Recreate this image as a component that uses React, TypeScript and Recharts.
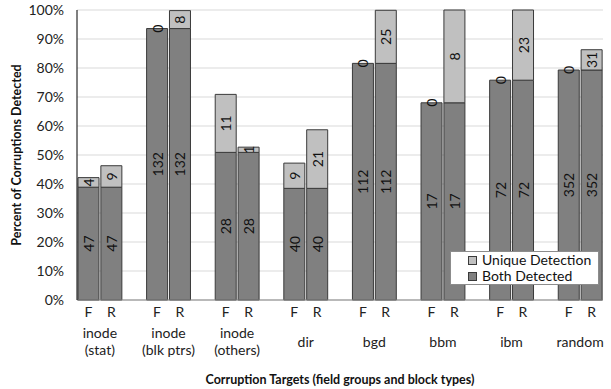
import { BarChart, Bar, XAxis, YAxis, CartesianGrid, LabelList } from 'recharts'

// group names along the x axis (one or two lines each)
const groups = [
  ['inode', '(stat)'],
  ['inode', '(blk ptrs)'],
  ['inode', '(others)'],
  ['dir'],
  ['bgd'],
  ['bbm'],
  ['ibm'],
  ['random'],
]

// percent of corruptions
const fBoth = [38.9, 93.6, 50.9, 38.5, 81.6, 68.0, 75.8, 79.3]
const fUnique = [3.3, 0, 20.0, 8.7, 0, 0, 0, 0]
const rBoth = [38.9, 93.6, 50.9, 38.5, 81.6, 68.0, 75.8, 79.3]
const rUnique = [7.4, 6.2, 1.8, 20.2, 18.3, 32.0, 24.2, 7.0]

// counts printed on the bars
const bothCount = [47, 132, 28, 40, 112, 17, 72, 352]
const fUniqueCount = [4, 0, 11, 9, 0, 0, 0, 0]
const rUniqueCount = [9, 8, 1, 21, 25, 8, 23, 31]

const yTicks = [0, 10, 20, 30, 40, 50, 60, 70, 80, 90, 100]

const W = 611
const H = 389
const Y_W = 77
const M_RIGHT = 8
const FONT = 'Lato, "Liberation Sans", sans-serif'
const DARK = '#808080'
const LIGHT = '#c0c0c0'
const EDGE = '#3a3a3a'

type Row = {
  key: string
  cat: string
  group: number
  both: number | null
  unique: number | null
  bothN: number | null
  uniqueN: number | null
}

const rows: Row[] = []
groups.forEach((_, i) => {
  rows.push({ key: `F${i}`, cat: 'F', group: i, both: fBoth[i], unique: fUnique[i], bothN: bothCount[i], uniqueN: fUniqueCount[i] })
  rows.push({ key: `R${i}`, cat: 'R', group: i, both: rBoth[i], unique: rUnique[i], bothN: bothCount[i], uniqueN: rUniqueCount[i] })
  if (i < groups.length - 1) {
    rows.push({ key: `_${i}`, cat: '', group: i, both: null, unique: null, bothN: null, uniqueN: null })
  }
})

const SLOT = (W - Y_W - M_RIGHT) / rows.length

// eslint-disable-next-line @typescript-eslint/no-explicit-any
function CatTick(props: any) {
  const { x, y, payload } = props
  const row = rows.find((r) => r.key === payload.value)
  if (!row || !row.cat) return <g />
  const lines = groups[row.group]
  const gx = x + SLOT / 2
  return (
    <g fontFamily={FONT} fontSize={14} fill="#222">
      <text x={x} y={y + 17} textAnchor="middle">{row.cat}</text>
      {row.cat === 'F' &&
        (lines.length === 2 ? (
          <>
            <text x={gx} y={y + 38} textAnchor="middle">{lines[0]}</text>
            <text x={gx} y={y + 55} textAnchor="middle">{lines[1]}</text>
          </>
        ) : (
          <text x={gx} y={y + 47} textAnchor="middle">{lines[0]}</text>
        ))}
    </g>
  )
}

function vText(cx: number, cy: number, value: number) {
  return (
    <text
      x={cx}
      y={cy}
      transform={`rotate(-90 ${cx} ${cy})`}
      textAnchor="middle"
      dominantBaseline="central"
      fontFamily={FONT}
      fontSize={14}
      fill="#111"
    >
      {value}
    </text>
  )
}

// eslint-disable-next-line @typescript-eslint/no-explicit-any
function BarLabel(props: any) {
  const { value } = props
  if (value === null || value === undefined || value === 0) return null
  const x = Number(props.x)
  const y = Number(props.y)
  const w = Number(props.width)
  const h = Number(props.height)
  return vText(x + w / 2, y + h / 2, value)
}

// zero-height unique segments: the "0" sits on top of the dark bar
// eslint-disable-next-line @typescript-eslint/no-explicit-any
function ZeroLabel(props: any) {
  const { value } = props
  if (value !== 0) return null
  const x = Number(props.x)
  const y = Number(props.y)
  const w = Number(props.width)
  return vText(x + w / 2, y, value)
}

const legendItems = [
  { name: 'Unique Detection', color: LIGHT },
  { name: 'Both Detected', color: DARK },
]

export default function App() {
  return (
    <div style={{ position: 'absolute', left: 0, top: 0, width: W, height: H, background: '#fff' }}>
      <BarChart
        width={W}
        height={H}
        data={rows}
        margin={{ top: 10, right: M_RIGHT, left: 0, bottom: 0 }}
        barCategoryGap={1}
      >
        <CartesianGrid vertical={false} stroke="#d9d9d9" />
        <XAxis
          dataKey="key"
          interval={0}
          height={89}
          tickLine={false}
          tickSize={0}
          tickMargin={0}
          axisLine={{ stroke: '#868686' }}
          tick={<CatTick />}
          label={{
            content: () => (
              <text x={340} y={384} textAnchor="middle" fontFamily={FONT} fontSize={12.5} fontWeight="bold" fill="#111">
                Corruption Targets (field groups and block types)
              </text>
            ),
          }}
        />
        <YAxis
          width={Y_W}
          domain={[0, 100]}
          ticks={yTicks}
          tickFormatter={(v) => `${v}%`}
          tickLine={false}
          tickSize={0}
          tickMargin={13}
          axisLine={{ stroke: '#000' }}
          tick={{ fontFamily: FONT, fontSize: 14, fill: '#222' }}
          label={{
            content: () => (
              <text
                x={16}
                y={155}
                transform="rotate(-90 16 155)"
                textAnchor="middle"
                dominantBaseline="central"
                fontFamily={FONT}
                fontSize={12.5}
                fontWeight="bold"
                fill="#111"
              >
                Percent of Corruptions Detected
              </text>
            ),
          }}
        />
        <Bar dataKey="both" stackId="a" fill={DARK} stroke={EDGE} strokeWidth={1} isAnimationActive={false}>
          <LabelList dataKey="bothN" content={<BarLabel />} />
          <LabelList dataKey="uniqueN" content={<ZeroLabel />} />
        </Bar>
        <Bar dataKey="unique" stackId="a" fill={LIGHT} stroke={EDGE} strokeWidth={1} isAnimationActive={false}>
          <LabelList dataKey="uniqueN" content={<BarLabel />} />
        </Bar>
      </BarChart>
      <div
        style={{
          position: 'absolute',
          left: 450,
          top: 251,
          width: 149,
          height: 34,
          border: '1px solid #8c8c8c',
          background: '#fff',
          fontFamily: FONT,
          fontSize: 14,
          color: '#111',
          boxSizing: 'border-box',
          padding: '0 0 0 17px',
          lineHeight: '16px',
        }}
      >
        {legendItems.map((it) => (
          <div key={it.name} style={{ display: 'flex', alignItems: 'center', whiteSpace: 'nowrap' }}>
            <span
              style={{
                display: 'inline-block',
                width: 7,
                height: 7,
                background: it.color,
                border: `1px solid ${EDGE}`,
                marginRight: 5,
              }}
            />
            {it.name}
          </div>
        ))}
      </div>
    </div>
  )
}
